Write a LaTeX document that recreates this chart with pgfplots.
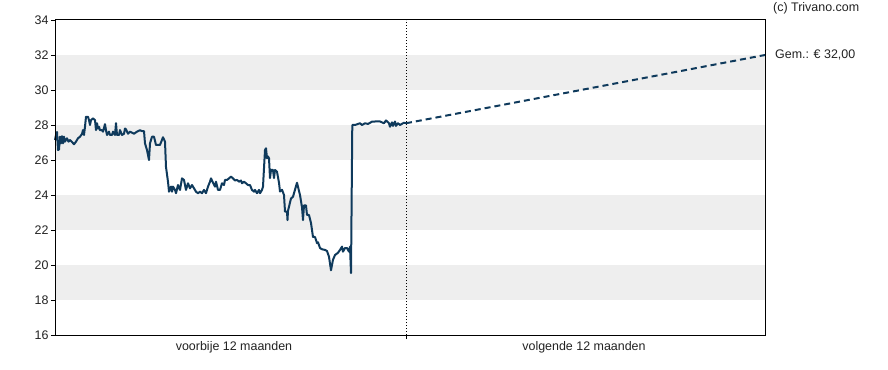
\documentclass[border=0pt]{standalone}
\usepackage{pgfplots}
\pgfplotsset{compat=1.18}
\usepackage{fontspec}
\setmainfont{Liberation Sans}
\definecolor{lineblue}{HTML}{0F3A5C}
\definecolor{band}{HTML}{EEEEEE}
\definecolor{txt}{HTML}{222222}
\begin{document}
\begin{tikzpicture}
\begin{axis}[
  at={(0,0)}, anchor=south west,
  scale only axis, width=710bp, height=315bp,
  xmin=55, xmax=765, ymin=16, ymax=34,
  ytick={16,18,...,34},
  xtick={406}, xticklabels={},
  extra x ticks={234,584},
  extra x tick labels={voorbije 12 maanden, volgende 12 maanden},
  extra x tick style={major tick length=0pt, tick style={draw=none}, xticklabel style={yshift=-3bp}},
  tick align=outside, major tick length=4bp,
  xtick pos=bottom, ytick pos=left,
  tick style={black, line width=0.8bp},
  axis line style={black, line width=1bp},
  tick label style={font=\fontsize{12.5}{14}\selectfont, text=txt},
  /pgf/number format/assume math mode=true,
  yticklabel style={xshift=1bp},
  clip=false,
  axis on top,
]
\fill[band] (axis cs:55,18) rectangle (axis cs:765,20);
\fill[band] (axis cs:55,22) rectangle (axis cs:765,24);
\fill[band] (axis cs:55,26) rectangle (axis cs:765,28);
\fill[band] (axis cs:55,30) rectangle (axis cs:765,32);
\draw[black, line width=0.9bp, dash pattern=on 1bp off 2bp] (axis cs:406,16) -- (axis cs:406,34);
\addplot[lineblue, line width=2bp, line join=round, mark=none] coordinates {
(55,27.14)(56,27.43)(57,27.6)(58,26.57)(59,26.6)(60,27.33)(61,26.95)(62,27.36)(63,26.95)(64,27.33)(65,27.05)(67,27.24)(68.5,27.05)(70,27.14)(72,27.03)(74,26.9)(76,27.05)(78,27.24)(80,27.33)(82,27.49)(83,27.71)(84,27.43)(85,27.9)(86,28.47)(88,28.47)(89,28.28)(90,28.0)(91,28.28)(93,28.38)(95,28.28)(96,27.71)(97,28.1)(98,27.8)(99,27.9)(100,27.7)(102,27.7)(103,27.62)(105,28.05)(106,27.7)(107,27.43)(109,27.62)(110,27.43)(112,27.43)(113,27.62)(115,27.43)(116,28.1)(117,27.43)(119,27.43)(120,27.71)(122,27.43)(124,27.5)(125,27.8)(126,27.75)(128,27.5)(130,27.62)(134,27.5)(137,27.62)(140,27.7)(142,27.65)(144,27.65)(145,26.95)(147,26.57)(149,26.0)(150,26.95)(152,27.33)(154,27.33)(156,26.86)(160,26.86)(163,27.3)(165,27.05)(166,25.6)(168,24.76)(169,24.19)(171,24.48)(172,24.19)(173,24.48)(175,24.29)(176,24.1)(178,24.57)(180,24.29)(182,24.95)(184,24.86)(186,24.29)(188,24.67)(190,24.38)(192,24.57)(194,24.38)(196,24.19)(198,24.1)(200,24.19)(202,24.1)(204,24.29)(206,24.1)(208,24.48)(210,24.76)(211,24.95)(213,24.7)(215,24.48)(216,24.76)(218,24.29)(220,24.29)(222,24.67)(224,24.57)(225,24.86)(227,24.86)(229,24.95)(231,25.05)(233,24.95)(235,24.83)(237,24.86)(239,24.76)(241,24.83)(242,24.67)(244,24.76)(246,24.67)(248,24.57)(250,24.57)(252,24.29)(254,24.19)(255,24.29)(257,24.1)(259,24.29)(260,24.1)(262,24.29)(263,24.48)(265,26.57)(266,26.67)(267,26.1)(268,26.2)(269,26.1)(270,24.97)(271,25.43)(273,25.43)(274,24.97)(275,25.43)(277,25.33)(279,24.7)(280,24.2)(282,24.3)(284,24.0)(285,23.05)(287,23.05)(287.5,22.57)(288,23.1)(291,23.8)(293,23.9)(294,24.1)(297,24.7)(300,24.0)(302,23.3)(303,22.57)(304,23.4)(306,23.4)(307,22.86)(309,22.86)(311,22.4)(313,21.6)(315,21.6)(316,21.43)(317,21.25)(318,21.3)(320,20.97)(322,20.9)(325,20.86)(327,20.8)(329,20.47)(331,19.7)(333,20.3)(335,20.57)(338,20.7)(340,20.86)(342,21.05)(343,20.76)(345,20.97)(347,20.97)(349,20.76)(350,21.05)(351,19.54)(352.3,28.0)(355,28.0)(358,28.06)(360,28.1)(362,28.0)(365,28.1)(368,28.06)(372,28.19)(375,28.2)(380,28.2)(384,28.1)(386,28.26)(389,28.1)(390,27.9)(392,28.15)(393,27.95)(395,28.2)(396,27.95)(398,28.1)(400,28.0)(402,28.07)(404,28.13)(406,28.1)
};
\addplot[lineblue, line width=2bp, dash pattern=on 6bp off 4bp, mark=none] coordinates {(406,28.1)(765,32.0)};
\node[anchor=west, text=txt, font=\fontsize{12.5}{14}\selectfont, inner sep=0pt] at ([xshift=10bp]axis cs:765,32) {Gem.: € 32,00};
\node[anchor=west, text=txt, font=\fontsize{12.5}{14}\selectfont, inner sep=0pt] at ([xshift=8bp,yshift=12bp]axis cs:765,34) {(c) Trivano.com};
\end{axis}
\pgfresetboundingbox
\path[use as bounding box] (-55bp,-35bp) rectangle (833bp,335bp);
\end{tikzpicture}
\end{document}
